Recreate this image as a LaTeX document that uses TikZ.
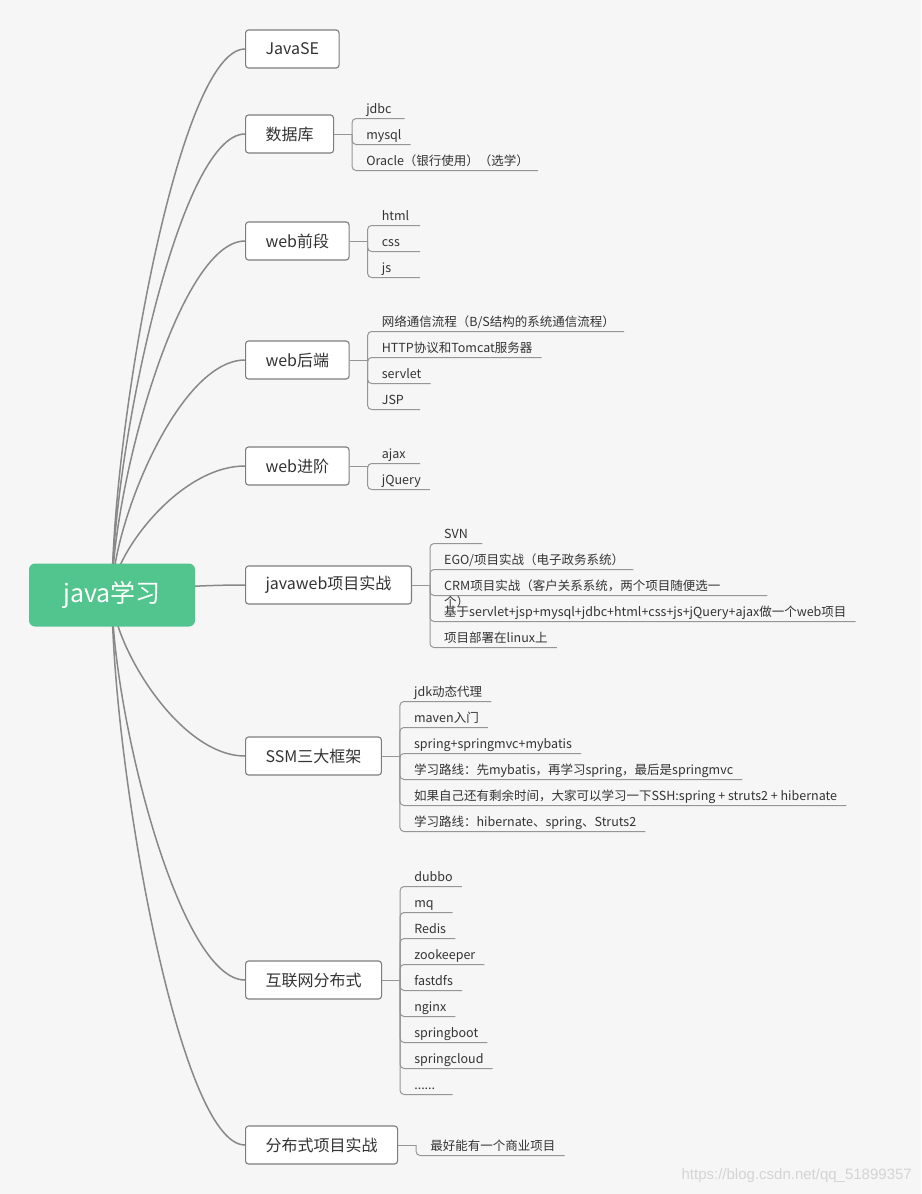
\documentclass[tikz,border=0pt]{standalone}
\usepackage{fontspec}
\setmainfont{Noto Sans CJK SC}
\newfontfamily\markfont{Liberation Sans}
\usetikzlibrary{calc}
\definecolor{bggray}{RGB}{246,246,246}
\definecolor{rootgreen}{RGB}{82,196,142}
\definecolor{curvegray}{RGB}{136,136,136}
\definecolor{leafgray}{RGB}{150,150,150}
\definecolor{framegray}{RGB}{125,125,125}
\definecolor{textdark}{RGB}{51,51,51}
\definecolor{markgray}{RGB}{212,212,212}
% leaf text, never shorter than 29pt
\newcommand\leafbox[1]{\setbox0=\hbox{#1}\ifdim\wd0<29pt\hbox to 29pt{\unhbox0\hfil}\else\box0\fi}
\newcommand\moredots{......}
% children of a topic: #1 topic, #2 count, #3 texts
\newcommand\leafgroup[3]{%
  \coordinate (#1-j) at ($(#1.east)+(18,0)$);
  \draw[leafline] (#1.east) -- (#1-j);
  \foreach \t [count=\i] in {#3} {
    \node[leaf] (#1-\i) at ($(#1-j)+(14,{5-13*(#2-1)+26*(\i-1)})$) {\leafbox{\t}};
    \draw[leafline] (#1-j) |- ($(#1-\i.base east)+(9,5.5)$);
  }}

\begin{document}
\begin{tikzpicture}[
    x=1pt, y=-1pt,
    central/.style={fill=rootgreen, rounded corners=6pt, minimum width=166pt, minimum height=63pt,
        inner sep=0pt, text=white, font=\fontsize{25}{30}\selectfont},
    topic/.style={draw=framegray, fill=white, line width=1.1pt, rounded corners=3pt, anchor=west,
        minimum height=38pt, inner xsep=20pt, text=textdark, font=\fontsize{16}{19}\selectfont},
    leaf/.style={anchor=base west, inner sep=0pt, text=textdark, font=\fontsize{12.5}{16}\selectfont},
    branch/.style={draw=curvegray, line width=1.5pt},
    leafline/.style={draw=leafgray, line width=1pt, rounded corners=4pt},
    watermark/.style={text=markgray, font=\markfont\fontsize{15}{18}\selectfont, anchor=east, inner sep=0pt}
]
    % Background
    \fill[bggray] (0,0) rectangle (921,1194);
    \coordinate (rc) at (112,595);

    % Topics
    \node[topic] (jse) at (245,49) {JavaSE};
    \node[topic] (db) at (245,134) {数据库};
    \node[topic] (wf) at (245,241) {web前段};
    \node[topic] (wb) at (245,360) {web后端};
    \node[topic] (wa) at (245,466) {web进阶};
    \node[topic] (jw) at (245,585) {javaweb项目实战};
    \node[topic] (ssm) at (245,756) {SSM三大框架};
    \node[topic] (dist) at (245,980) {互联网分布式};
    \node[topic] (proj) at (245,1145) {分布式项目实战};

    % Curves from the root
    \foreach \n in {jse,db,wf,wb,wa,jw,ssm,dist,proj}
        \draw[branch] (rc) .. controls ($(rc)!0.3!(rc |- \n.west)$) and ($(\n.west)!0.5!(rc |- \n.west)$) .. (\n.west);

    % Root
    \node[central] (root) at (rc) {java学习};

    % Leaves
    \leafgroup{db}{3}{jdbc, mysql, Oracle（银行使用）（选学）}
    \leafgroup{wf}{3}{html, css, js}
    \leafgroup{wb}{4}{{网络通信流程（B/S结构的系统通信流程）}, HTTP协议和Tomcat服务器, servlet, JSP}
    \leafgroup{wa}{2}{ajax, jQuery}
    \leafgroup{jw}{5}{SVN, {EGO/项目实战（电子政务系统）},
        {\vtop{\hbox to 314pt{CRM项目实战（客户关系系统，两个项目随便选一\hfil}\hbox{个）}}},
        基于servlet+jsp+mysql+jdbc+html+css+js+jQuery+ajax做一个web项目, 项目部署在linux上}
    \leafgroup{ssm}{6}{jdk动态代理, maven入门, spring+springmvc+mybatis,
        学习路线：先mybatis，再学习spring，最后是springmvc,
        如果自己还有剩余时间，大家可以学习一下SSH:spring + struts2 + hibernate,
        学习路线：hibernate、spring、Struts2}
    \leafgroup{dist}{9}{dubbo, mq, Redis, zookeeper, fastdfs, nginx, springboot, springcloud, \moredots}
    \leafgroup{proj}{1}{最好能有一个商业项目}

    % Watermark
    \node[watermark] (wm) at (912,1176) {https://blog.csdn.net/qq\_51899357};
\end{tikzpicture}
\end{document}
